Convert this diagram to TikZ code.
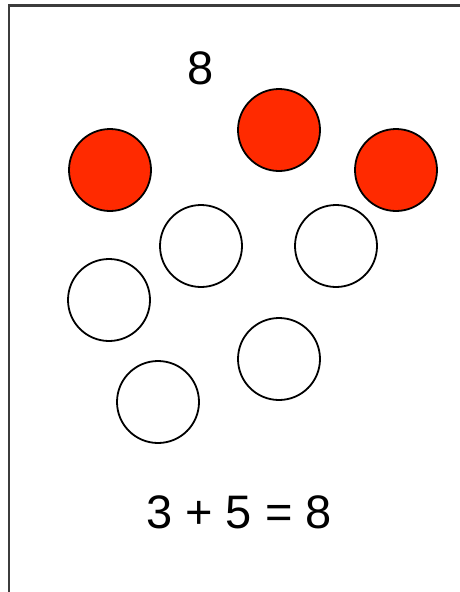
\documentclass[tikz,border=0pt]{standalone}
\usepackage{fontspec}
\setmainfont{Liberation Sans}
\definecolor{chipred}{RGB}{255,42,0}
\definecolor{framegray}{RGB}{60,60,60}
\begin{document}
\begin{tikzpicture}[x=1pt,y=-1pt,
  chip/.style={circle,draw=black,line width=1.8pt,minimum size=82pt,inner sep=0pt},
  redchip/.style={chip,fill=chipred},
  whitechip/.style={chip,fill=white},
  bigtext/.style={font=\fontsize{47}{50}\selectfont,inner sep=0pt}]
\useasboundingbox (0,0) rectangle (460,592);
\fill[white] (0,0) rectangle (460,592);
\draw[framegray,line width=2.6pt] (9,592) -- (9,5.5) -- (460,5.5);
\node[bigtext] (eight) at (201,68) {8};
\node[redchip] (r1) at (110,170) {};
\node[redchip] (r2) at (279,130) {};
\node[redchip] (r3) at (396,170) {};
\node[whitechip] (w1) at (201,246) {};
\node[whitechip] (w2) at (336,246) {};
\node[whitechip] (w3) at (109,300) {};
\node[whitechip] (w4) at (279,359) {};
\node[whitechip] (w5) at (158,402) {};
\node[bigtext] (eq) at (239,512) {3 + 5 = 8};
\end{tikzpicture}
\end{document}
